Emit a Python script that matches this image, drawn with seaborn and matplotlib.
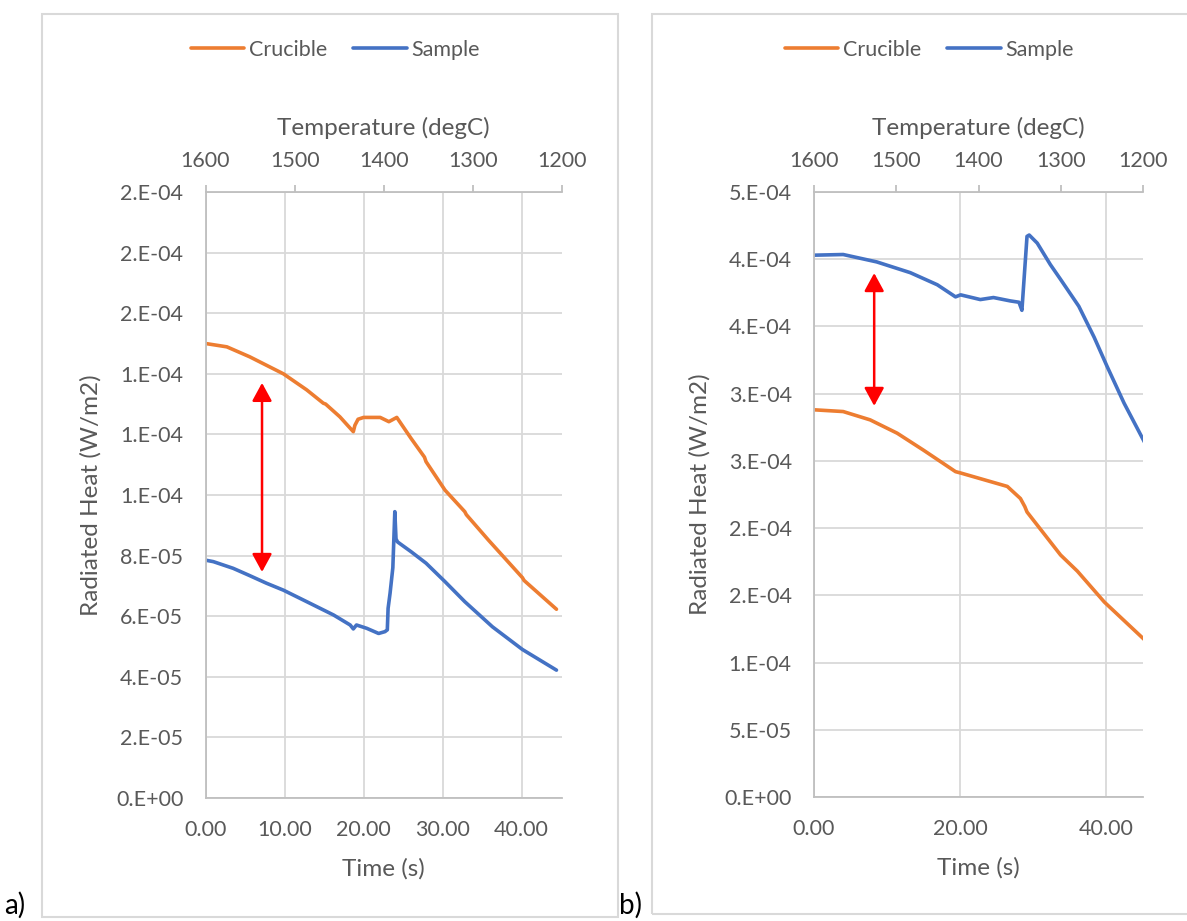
import matplotlib
matplotlib.use("Agg")
import matplotlib.pyplot as plt
import seaborn as sns
import pandas as pd
from matplotlib.patches import Rectangle
from matplotlib.lines import Line2D

# ---------------- data ----------------
series_names = ["Crucible", "Sample"]
series_colors = {"Crucible": "#ED7D31", "Sample": "#4472C4"}

# panel a
a_crucible_t = [0.0, 2.7, 5.6, 9.85, 12.8, 14.9, 15.2, 17.0, 18.7, 18.9, 19.3, 20.0, 22.1,
                23.2, 24.2, 26.0, 27.7, 27.9, 30.3, 32.8, 33.0, 35.8, 40.1, 40.3, 44.4]
a_crucible_v = [1.500e-4, 1.489e-4, 1.456e-4, 1.400e-4, 1.347e-4, 1.303e-4, 1.300e-4, 1.258e-4,
                1.209e-4, 1.230e-4, 1.250e-4, 1.256e-4, 1.256e-4, 1.242e-4, 1.256e-4, 1.187e-4,
                1.125e-4, 1.110e-4, 1.016e-4, 0.945e-4, 0.935e-4, 0.851e-4, 0.727e-4, 0.718e-4,
                0.623e-4]
a_sample_t = [0.0, 1.0, 3.5, 5.5, 7.7, 9.85, 12.8, 16.2, 18.3, 18.7, 19.1, 20.4, 21.9, 22.7,
              23.0, 23.1, 23.35, 23.7, 23.95, 24.1, 24.3, 26.0, 27.9, 30.3, 32.8, 36.3, 40.1, 44.4]
a_sample_v = [7.85e-5, 7.80e-5, 7.58e-5, 7.35e-5, 7.09e-5, 6.86e-5, 6.48e-5, 6.04e-5, 5.71e-5,
              5.58e-5, 5.71e-5, 5.60e-5, 5.43e-5, 5.49e-5, 5.55e-5, 6.26e-5, 6.76e-5, 7.60e-5,
              9.45e-5, 8.55e-5, 8.45e-5, 8.13e-5, 7.75e-5, 7.14e-5, 6.48e-5, 5.65e-5, 4.90e-5,
              4.22e-5]

# panel b
b_crucible_t = [0.0, 4.0, 7.7, 11.4, 15.0, 19.4, 20.1, 23.3, 26.5, 28.3, 28.9, 29.2, 31.5,
                33.8, 36.1, 39.8, 45.3]
b_crucible_v = [2.880e-4, 2.867e-4, 2.805e-4, 2.706e-4, 2.580e-4, 2.420e-4, 2.410e-4, 2.360e-4,
                2.310e-4, 2.220e-4, 2.160e-4, 2.120e-4, 1.960e-4, 1.800e-4, 1.680e-4, 1.450e-4,
                1.170e-4]
b_sample_t = [0.0, 4.0, 8.6, 13.2, 16.9, 19.4, 20.1, 22.8, 24.6, 26.9, 28.1, 28.5, 29.2, 29.5,
              30.6, 32.4, 33.8, 36.3, 38.4, 40.2, 42.5, 45.3]
b_sample_v = [4.030e-4, 4.035e-4, 3.980e-4, 3.900e-4, 3.810e-4, 3.720e-4, 3.735e-4, 3.700e-4,
              3.715e-4, 3.690e-4, 3.680e-4, 3.620e-4, 4.170e-4, 4.180e-4, 4.120e-4, 3.960e-4,
              3.850e-4, 3.650e-4, 3.420e-4, 3.200e-4, 2.930e-4, 2.640e-4]

time_max = 45.1
temp_ticks = [1600, 1500, 1400, 1300, 1200]

a_yticks = [0, 2e-5, 4e-5, 6e-5, 8e-5, 1e-4, 1.2e-4, 1.4e-4, 1.6e-4, 1.8e-4, 2e-4]
a_yticklabels = ["0.E+00", "2.E-05", "4.E-05", "6.E-05", "8.E-05", "1.E-04", "1.E-04",
                 "1.E-04", "2.E-04", "2.E-04", "2.E-04"]
a_xticks = [0, 10, 20, 30, 40]
a_xticklabels = ["0.00", "10.00", "20.00", "30.00", "40.00"]

b_yticks = [0, 5e-5, 1e-4, 1.5e-4, 2e-4, 2.5e-4, 3e-4, 3.5e-4, 4e-4, 4.5e-4]
b_yticklabels = ["0.E+00", "5.E-05", "1.E-04", "2.E-04", "2.E-04", "3.E-04", "3.E-04",
                 "4.E-04", "4.E-04", "5.E-04"]
b_xticks = [0, 20, 40]
b_xticklabels = ["0.00", "20.00", "40.00"]

a_arrow = (7.15, 1.37e-4, 7.46e-5)   # time, top, bottom
b_arrow = (8.25, 3.897e-4, 2.909e-4)

# ---------------- style ----------------
sns.set_theme(style="white")
plt.rcParams['font.family'] = ['Lato', 'DejaVu Sans']
TXT = "#595959"
GRID = "#D9D9D9"
AXL = "#BFBFBF"
FS = 15.5
FT = 17.5

W, H = 1187, 921
fig = plt.figure(figsize=(W / 100, H / 100), dpi=100)


def rect(x0, y0, x1, y1):
    return [x0 / W, 1 - y1 / H, (x1 - x0) / W, (y1 - y0) / H]


def panel(axbox, frame, data, yticks, ylabels, xticks, xlabels, arrow, leg_cx, tag, tag_xy):
    # frame of the chart object
    fig.patches.append(Rectangle((frame[0] / W, 1 - frame[3] / H),
                                 (frame[2] - frame[0]) / W, (frame[3] - frame[1]) / H,
                                 transform=fig.transFigure, fill=False,
                                 edgecolor=GRID, lw=1.5, zorder=0))
    ax = fig.add_axes(rect(*axbox))
    frames = []
    for name, (t, v) in zip(series_names, data):
        frames.append(pd.DataFrame({"Time": t, "Heat": v, "Series": name}))
    df = pd.concat(frames, ignore_index=True)
    sns.lineplot(data=df, x="Time", y="Heat", hue="Series", palette=series_colors,
                 estimator=None, sort=False, lw=2.6, ax=ax, legend=False)
    ax.set_xlim(0, time_max)
    ax.set_ylim(yticks[0], yticks[-1])
    ax.set_yticks(yticks)
    ax.set_yticklabels(ylabels)
    ax.set_xticks(xticks)
    ax.set_xticklabels(xlabels)
    ax.grid(True, color=GRID, lw=1.3)
    ax.set_axisbelow(True)
    for s in ["top", "right"]:
        ax.spines[s].set_visible(False)
    for s in ["left", "bottom"]:
        ax.spines[s].set_color(AXL)
        ax.spines[s].set_linewidth(1.3)
    ax.tick_params(axis="both", length=0, labelsize=FS, colors=TXT)
    ax.tick_params(axis="y", pad=16)
    ax.tick_params(axis="x", pad=16)
    ax.set_xlabel("Time (s)", fontsize=FT, color=TXT, labelpad=13)
    ax.set_ylabel("Radiated Heat (W/m2)", fontsize=FT, color=TXT, labelpad=10)

    ax2 = ax.twiny()
    ax2.set_xlim(temp_ticks[0], temp_ticks[-1])
    ax2.set_xticks(temp_ticks)
    ax2.set_xticklabels([str(v) for v in temp_ticks])
    for s in ["bottom", "left", "right"]:
        ax2.spines[s].set_visible(False)
    ax2.spines["top"].set_color(AXL)
    ax2.spines["top"].set_linewidth(1.3)
    ax2.tick_params(axis="x", length=5, width=1.3, color=AXL, labelsize=FS, colors=TXT, pad=10)
    ax2.tick_params(axis="x", color=AXL)
    ax2.set_xlabel("Temperature (degC)", fontsize=FT, color=TXT, labelpad=12)
    ax2.grid(False)

    t, top, bot = arrow
    ax.annotate("", xy=(t, top), xytext=(t, bot),
                arrowprops=dict(arrowstyle="<|-|>,head_length=0.55,head_width=0.3",
                                color="red", lw=1.8, mutation_scale=20,
                                shrinkA=0, shrinkB=0))

    handles = [Line2D([], [], color=series_colors[n], lw=2.6) for n in series_names]
    fig.legend(handles, series_names, loc="center", bbox_to_anchor=(leg_cx / W, 1 - 50 / H),
               ncol=2, frameon=False, fontsize=FS, handlelength=2.5, handletextpad=0.2,
               columnspacing=1.2, labelcolor=TXT)
    fig.text(tag_xy[0] / W, 1 - tag_xy[1] / H, tag, fontsize=20, color="black",
             ha="left", va="baseline")
    return ax


panel((205.5, 192, 562, 798), (42, 14, 618, 917),
      [(a_crucible_t, a_crucible_v), (a_sample_t, a_sample_v)],
      a_yticks, a_yticklabels, a_xticks, a_xticklabels, a_arrow, 335, "a)", (4, 914))
panel((814, 192, 1143, 797), (652, 14, 1220, 914),
      [(b_crucible_t, b_crucible_v), (b_sample_t, b_sample_v)],
      b_yticks, b_yticklabels, b_xticks, b_xticklabels, b_arrow, 929, "b)", (619, 914))

fig.savefig("out.png", dpi=100, facecolor="white")
